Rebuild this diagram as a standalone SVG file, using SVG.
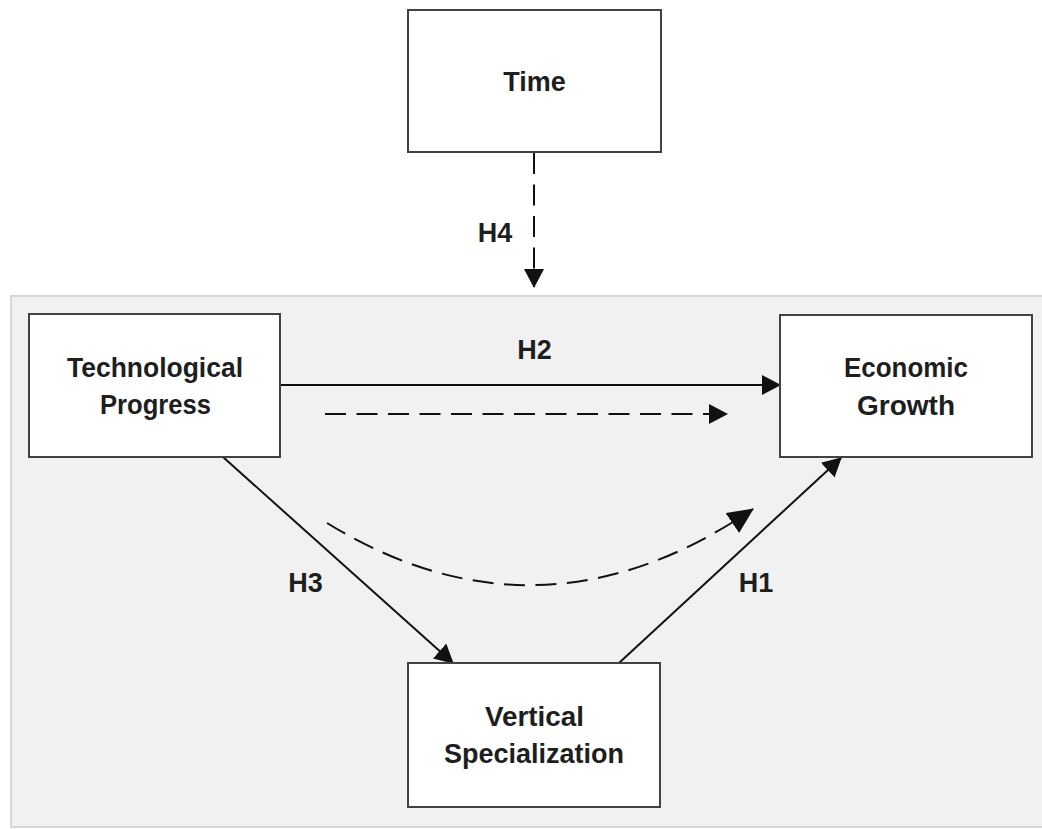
<svg xmlns="http://www.w3.org/2000/svg" width="1042" height="829" viewBox="0 0 1042 829">
  <style>
    .box { fill: #ffffff; stroke: #424242; stroke-width: 2; }
    .lbl { font-family: "Liberation Sans", Arial, sans-serif; font-weight: bold; font-size: 27px; fill: #1e1e1e; text-anchor: middle; }
    .edge { fill: none; stroke: #111111; stroke-width: 2; }
    .dash { stroke-dasharray: 21 10.5; }
  </style>
  <defs>
    <marker id="arrow" markerUnits="userSpaceOnUse" markerWidth="22" markerHeight="22" refX="18" refY="10" orient="auto">
      <path d="M0,0 L19,10 L0,20 z" fill="#111111"/>
    </marker>
    <marker id="arrowLarge" markerUnits="userSpaceOnUse" markerWidth="30" markerHeight="28" refX="25" refY="12" orient="auto">
      <path d="M0,0 L26,12 L0,24 z" fill="#111111"/>
    </marker>
  </defs>

  <rect width="1042" height="829" fill="#ffffff"/>

  <!-- shaded model panel -->
  <rect id="panel" x="11" y="296" width="1040" height="531" fill="#f1f1f1" stroke="#d6d6d6" stroke-width="2"/>

  <g id="connectors">
    <!-- H4: Time moderates the model -->
    <line class="edge dash" x1="534" y1="153" x2="534" y2="287" marker-end="url(#arrow)"/>
    <!-- H2: direct effect -->
    <line class="edge" x1="281" y1="385" x2="780" y2="385" marker-end="url(#arrow)"/>
    <!-- indirect effect, straight -->
    <line class="edge dash" x1="325" y1="414" x2="727" y2="414" marker-end="url(#arrow)"/>
    <!-- H3 -->
    <line class="edge" x1="223" y1="457" x2="453" y2="663" marker-end="url(#arrow)"/>
    <!-- H1 -->
    <line class="edge" x1="619" y1="663" x2="841" y2="458" marker-end="url(#arrow)"/>
    <!-- mediated path, curved -->
    <path class="edge dash" d="M327,523 Q540,654 753,509" marker-end="url(#arrowLarge)"/>
  </g>

  <g id="edge-labels">
    <text class="lbl" x="495" y="242">H4</text>
    <text class="lbl" x="534.5" y="359">H2</text>
    <text class="lbl" x="305.5" y="592">H3</text>
    <text class="lbl" x="756" y="592">H1</text>
  </g>

  <g id="node-time">
    <rect class="box" x="408" y="10" width="253" height="142"/>
    <text class="lbl" x="534.5" y="91">Time</text>
  </g>

  <g id="node-tech">
    <rect class="box" x="29" y="314" width="251" height="143"/>
    <text class="lbl" x="155" y="377" textLength="176" lengthAdjust="spacingAndGlyphs">Technological</text>
    <text class="lbl" x="155.5" y="414" textLength="111" lengthAdjust="spacingAndGlyphs">Progress</text>
  </g>

  <g id="node-growth">
    <rect class="box" x="780" y="315" width="252" height="142"/>
    <text class="lbl" x="906" y="377" textLength="124" lengthAdjust="spacingAndGlyphs">Economic</text>
    <text class="lbl" x="906" y="415" textLength="98" lengthAdjust="spacingAndGlyphs">Growth</text>
  </g>

  <g id="node-vs">
    <rect class="box" x="408" y="663" width="252" height="144"/>
    <text class="lbl" x="534.5" y="726" textLength="99" lengthAdjust="spacingAndGlyphs">Vertical</text>
    <text class="lbl" x="534" y="763" textLength="180" lengthAdjust="spacingAndGlyphs">Specialization</text>
  </g>
</svg>
